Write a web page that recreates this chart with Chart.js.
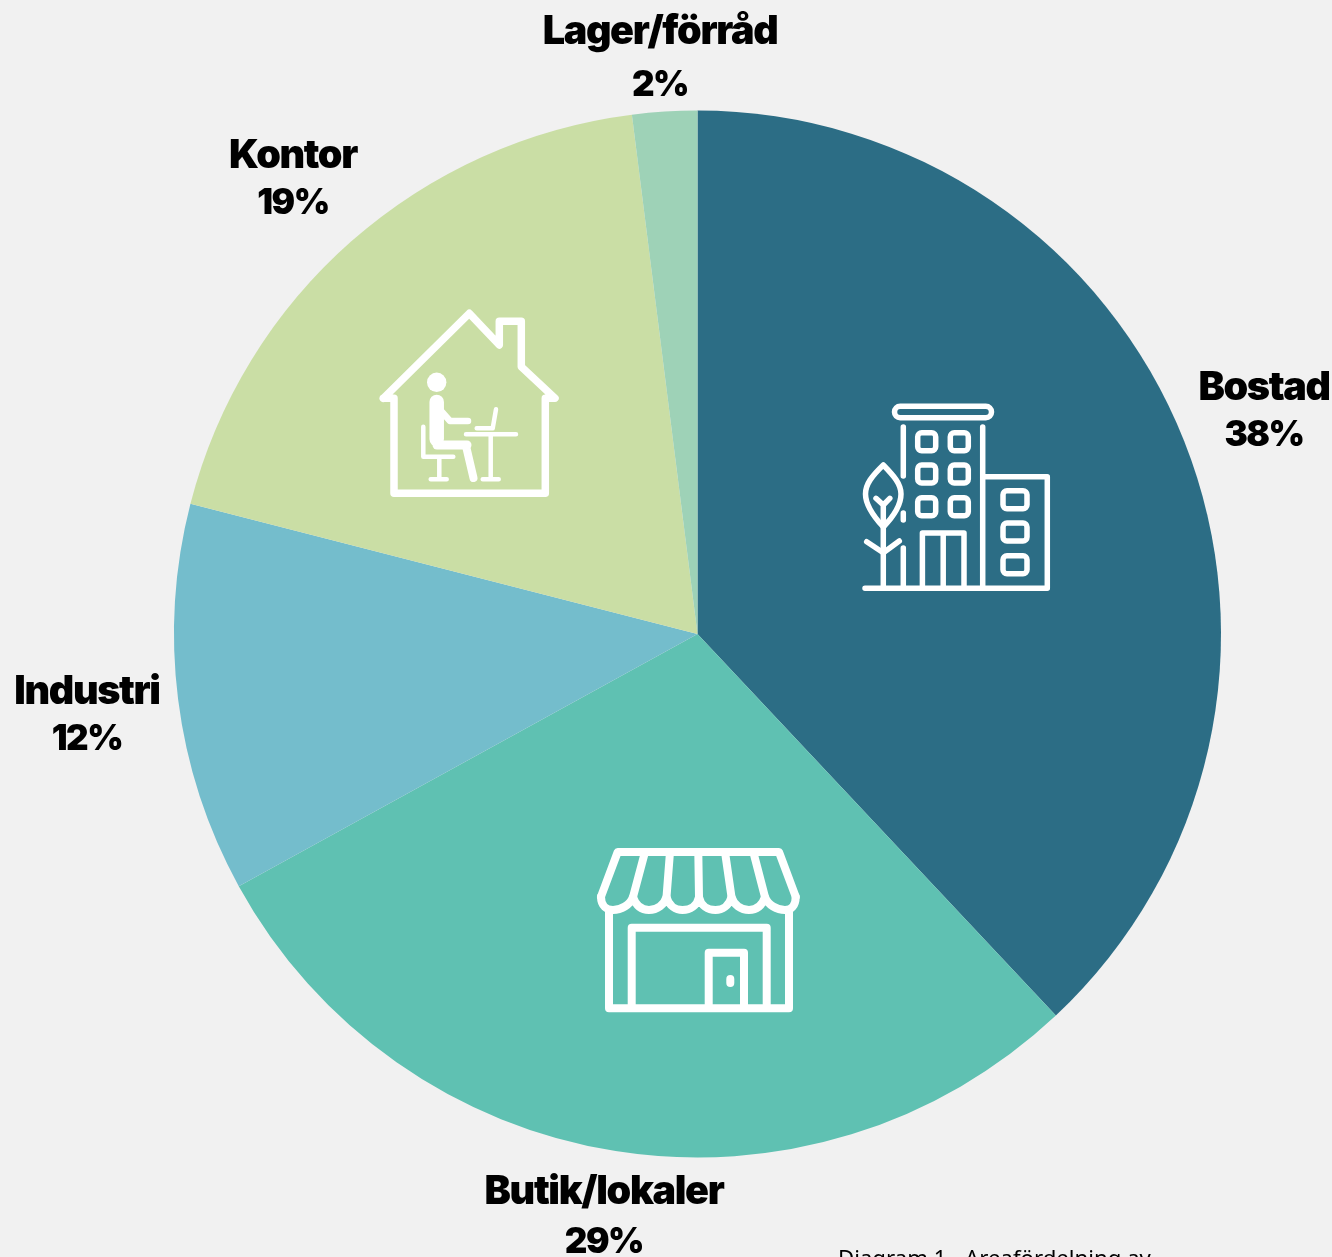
<!DOCTYPE html>
<html lang="sv">
<head>
<meta charset="utf-8">
<title>Diagram 1</title>
<script src="https://cdn.jsdelivr.net/npm/chart.js@4"></script>
<style>
  html, body { margin: 0; padding: 0; background: #f1f1f1; overflow: hidden; }
  #wrap { width: 1332px; height: 1257px; }
</style>
</head>
<body>
<div id="wrap"><canvas id="pie" width="1332" height="1257"></canvas></div>
<script>
const categories = ["Bostad", "Butik/lokaler", "Industri", "Kontor", "Lager/förråd"];
const shares = [38, 29, 12, 19, 2];
const sliceColors = ["#2c6d85", "#5fc1b2", "#74bdcc", "#cadea5", "#9ed2b7"];
const captionText = "Diagram 1 - Areafördelning av";

// where the two line labels sit: centre x, name baseline, percent baseline
const labelSpots = [
  [1264, 400, 446],
  [604, 1204, 1253],
  [87, 704, 750],
  [293, 168, 214],
  [660, 44, 96]
];

function strokePaths(ctx, width, paths) {
  ctx.lineWidth = width;
  paths.forEach(p => ctx.stroke(new Path2D(p)));
}

function roundBox(ctx, cx, cy, w, h, r) {
  ctx.beginPath();
  ctx.roundRect(cx - w / 2, cy - h / 2, w, h, r);
  ctx.stroke();
}

// ======================
// ICONS
// ======================
function drawBuilding(ctx) {
  strokePaths(ctx, 5.5, [
    "M903.3 427V476M903.3 513V520M903.3 548V588",
    "M982.7 427V588M982.7 476.7H1047.3V588.3H865",
    "M922.4 588V533H964V588M943.2 533V588",
    "M883.3 465C872 476 865.5 484 865.5 494C865.5 506 875 518 883.3 527C892 518 901 506 901 494C901 484 894 476 883.3 465Z",
    "M883.3 505V588M876 498.3L883.3 505L889.8 498.3",
    "M866.7 541.7L883.3 552.7L899.3 541"
  ]);
  roundBox(ctx, 943, 412, 97, 11.5, 5.7);
  [926.7, 959.3].forEach(x => [441.7, 474, 506.7].forEach(y => roundBox(ctx, x, y, 18, 18, 4)));
  [499.7, 532, 564.7].forEach(y => roundBox(ctx, 1015, y, 24, 18, 4));
}

function drawOffice(ctx) {
  strokePaths(ctx, 7.5, [
    "M383.3 398.3L469.3 313.3L499.3 345V321.3H521.3V366.7L555 398.3H545.3V493.3H394V398.3H383.3"
  ]);
  // person
  ctx.beginPath();
  ctx.arc(436.7, 382.3, 9.7, 0, Math.PI * 2);
  ctx.fill();
  strokePaths(ctx, 14.5, ["M436.7 402V439"]);
  strokePaths(ctx, 9, ["M437 445H467"]);
  strokePaths(ctx, 8, ["M466 446L473.5 478"]);
  strokePaths(ctx, 6.5, ["M442 412L450 421H468"]);
  // chair, table and laptop
  strokePaths(ctx, 4.5, [
    "M423.3 426.7V456.7H453.3M439.3 456.7V479.3M430.7 479.3H446.7",
    "M466 434.3H516M490.7 434.3V479.3M482.7 479.3H498.7",
    "M476.7 428.3H492.7L496 409.3"
  ]);
}

function drawShop(ctx) {
  strokePaths(ctx, 8, [
    "M601 896.7L617.7 852H779L795.7 896.7",
    "M601 896.7C601 906 607 910 613 910C621 910 630 905 633 897C636 906 642 910 649 910C657 910 664 905 666.5 897C669 906 676 910 682.5 910C690 910 697 906 699 897C701 906 708 910 715.5 910C722 910 729 906 731.5 897C734 905 741 910 749 910C756 910 762 906 765 897C768 905 777 910 785 910C791 910 795.7 906 795.7 896.7",
    "M645 852L633 897M670 852L666.5 897M698.3 852L699 897M725 852L731.5 897M753.3 852L765 897",
    "M609 911.7V1008.3H789V911.7",
    "M631.7 1008V927.7H766.7V1008",
    "M708.7 1008V952.7H744V1008",
    "M730.3 979V983"
  ]);
}

// ======================
// PLUGIN: ICONS AND LABELS
// ======================
const extrasPlugin = {
  id: "extras",
  afterDatasetsDraw(chart) {
    const ctx = chart.ctx;

    ctx.save();
    ctx.strokeStyle = "#ffffff";
    ctx.fillStyle = "#ffffff";
    ctx.lineCap = "round";
    ctx.lineJoin = "round";
    drawBuilding(ctx);
    drawOffice(ctx);
    drawShop(ctx);
    ctx.restore();

    ctx.save();
    ctx.fillStyle = "#000000";
    ctx.textAlign = "center";
    ctx.textBaseline = "alphabetic";
    categories.forEach((name, i) => {
      const [x, nameY, pctY] = labelSpots[i];
      ctx.font = '900 39.5px "Inter"';
      ctx.letterSpacing = "-1.35px";
      ctx.fillText(name, x, nameY);
      ctx.font = '900 35px "Inter"';
      ctx.letterSpacing = "-1.5px";
      ctx.fillText(shares[i] + "%", x, pctY);
    });

    ctx.font = '22.2px "Noto Sans"';
    ctx.letterSpacing = "0px";
    ctx.textAlign = "left";
    ctx.fillText(captionText, 838, 1266);
    ctx.restore();
  }
};

// ======================
// CHART
// ======================
new Chart(document.getElementById("pie"), {
  type: "pie",
  data: {
    labels: categories,
    datasets: [{
      data: shares,
      backgroundColor: sliceColors,
      borderWidth: 0
    }]
  },
  options: {
    responsive: false,
    animation: false,
    layout: {
      padding: { left: 174, right: 111, top: 110.5, bottom: 99.5 }
    },
    plugins: {
      legend: { display: false },
      tooltip: { enabled: false }
    }
  },
  plugins: [extrasPlugin]
});
</script>
</body>
</html>
